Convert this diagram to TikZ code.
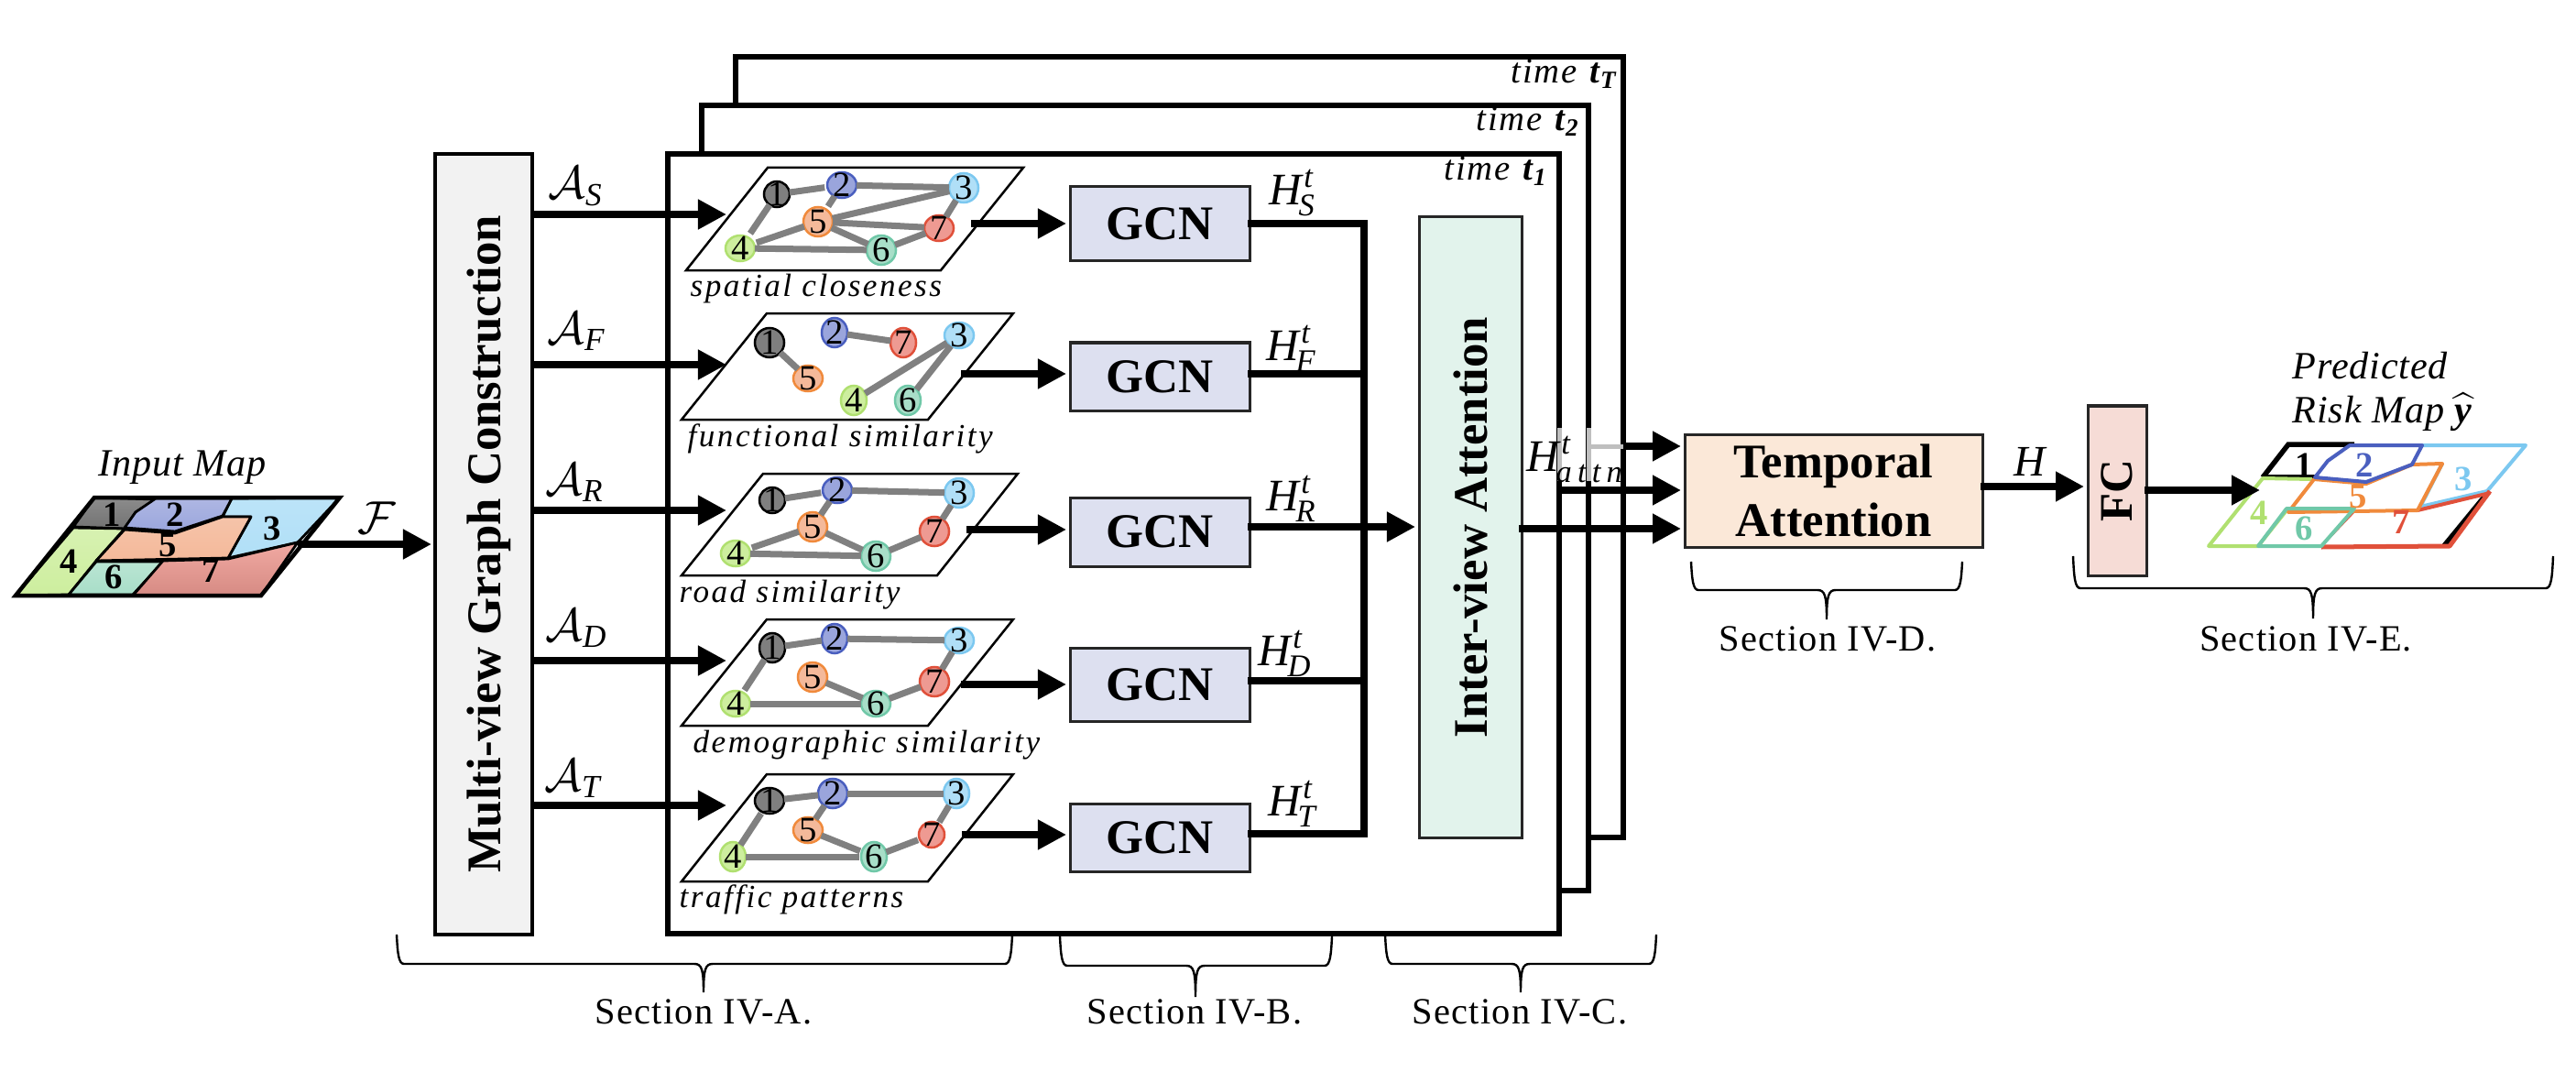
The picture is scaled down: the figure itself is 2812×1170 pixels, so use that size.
\documentclass[tikz,border=0pt]{standalone}
\usepackage{amsmath}
\usepackage{fontspec}
\setmainfont{Liberation Serif}
\usetikzlibrary{arrows.meta,shapes.geometric,calc}
\definecolor{cGcn}{HTML}{DDE0F0}
\definecolor{cMv}{HTML}{F2F2F2}
\definecolor{cIv}{HTML}{E2F3EC}
\definecolor{cTa}{HTML}{FBE8D8}
\definecolor{cFc}{HTML}{F6DCD6}
\definecolor{cEdge}{HTML}{808080}
\definecolor{cGap}{HTML}{BFBFBF}
\definecolor{dOne}{HTML}{000000}
\definecolor{fOne}{HTML}{7F7F7F}
\definecolor{dTwo}{HTML}{4A5FBF}
\definecolor{fTwo}{HTML}{9AA5DC}
\definecolor{dThree}{HTML}{7CC8F0}
\definecolor{fThree}{HTML}{B0DFF7}
\definecolor{dFour}{HTML}{B0E070}
\definecolor{fFour}{HTML}{CDEE9E}
\definecolor{dFive}{HTML}{F08A3C}
\definecolor{fFive}{HTML}{F4B99A}
\definecolor{dSix}{HTML}{70C8A8}
\definecolor{fSix}{HTML}{A8DEC8}
\definecolor{dSeven}{HTML}{E0503A}
\definecolor{fSeven}{HTML}{EE9A92}
\newcommand\bxn[7]{%
  \pgfmathsetmacro\bxw{(#5-#3)*0.01}%
  \pgfmathsetmacro\bxh{(#6-#4)*0.01}%
  \node[#2,minimum width=\bxw cm,minimum height=\bxh cm] (#1) at ({(#3+#5)/2},{(#4+#6)/2}) {#7};}
\newcommand\gnd[7]{%
  \pgfmathsetmacro\gnw{#4*0.02}%
  \pgfmathsetmacro\gnh{#5*0.02}%
  \node[gnode,minimum width=\gnw cm,minimum height=\gnh cm,draw=d#6,fill=f#6] (#1) at (#2,#3) {\raisebox{-0.33em}[0pt][0pt]{\makebox[0pt]{#7}}};}
\newcommand\sbrace[6]{%
  \draw[bracestyle] (#1,#4) .. controls ({#1+1},{#5-12}) and ({#1+2},#5) .. ({#1+8},#5)
    -- ({#3-10},#5) .. controls ({#3-2},#5) and (#3,{#5+6}) .. (#3,#6)
    .. controls (#3,{#5+6}) and ({#3+2},#5) .. ({#3+10},#5)
    -- ({#2-8},#5) .. controls ({#2-2},#5) and ({#2-1},{#5-12}) .. (#2,#4);}
\newcommand\HL[1]{\textit{H}$^{\textit{t}}_{\!\textit{#1}}$}
\newcommand\AL[1]{$\mathcal{A}$$_{\textit{#1}}$}
\newcommand\TM[1]{{\addfontfeature{LetterSpace=5}\textit{time} }\textbf{\textit{t}}$_{\textbf{\textit{#1}}}$}
\tikzset{
  frame/.style={draw=black,fill=white,line width=0.055cm,inner sep=0pt,outer sep=0pt},
  block/.style={draw=black!85,line width=0.03cm,inner sep=0pt,outer sep=0pt,font=\fontsize{15}{18.2}\selectfont\bfseries,align=center},
  wire/.style={line width=0.075cm,draw=black},
  flow/.style={wire,-{Triangle[length=0.31cm,width=0.31cm]}},
  flowbox/.style={flow,shorten >=0.04cm},
  plane/.style={draw=black,fill=white,line width=0.025cm,line join=miter},
  gnode/.style={ellipse,inner sep=0pt,outer sep=0pt,line width=0.025cm,font=\fontsize{11}{12}\selectfont},
  edge/.style={draw=cEdge,line width=0.07cm},
  gaplt/.style={draw=cGap,line width=0.05cm},
  ilabel/.style={anchor=base west,inner sep=0pt,font=\fontsize{10}{12}\selectfont\itshape\addfontfeature{LetterSpace=7}},
  mlabel/.style={anchor=base west,inner sep=0pt,font=\fontsize{12}{14}\selectfont\itshape\addfontfeature{LetterSpace=2}},
  alabel/.style={anchor=base west,inner sep=0pt,font=\fontsize{14.4}{16}\selectfont},
  hlabel/.style={anchor=base west,inner sep=0pt,font=\fontsize{14}{16}\selectfont},
  tlabel/.style={anchor=base east,inner sep=0pt,font=\fontsize{11}{13}\selectfont},
  seclabel/.style={anchor=base,inner sep=0pt,font=\fontsize{11.5}{14}\selectfont\addfontfeature{LetterSpace=3}},
  digit/.style={inner sep=0pt,font=\fontsize{11}{12}\selectfont\bfseries},
  bracestyle/.style={draw=black,line width=0.024cm},
  region/.style={draw=black,line width=0.028cm,line join=round},
  risk/.style={line width=0.04cm,line join=round},
}
\begin{document}
\begin{tikzpicture}[x=0.01cm,y=-0.01cm]
\useasboundingbox (0,0) rectangle (2812,1170);
% stacked time frames
\bxn{fT}{frame}{803}{62}{1772}{914}{}
\bxn{fTwo}{frame}{766}{115}{1734}{972}{}
\bxn{fOne}{frame}{729}{168}{1702}{1019}{}
\node[tlabel] (timeT) at (1767,91) {\TM{T}};
\node[tlabel] (timeTwo) at (1725,143) {\TM{2}};
\node[tlabel] (timeOne) at (1690,197) {\TM{1}};
% input map
\path[region,top color=fThree!85!white,bottom color=fThree] (253,544) -- (371,543) -- (325,592) -- (249,609) -- (274,564) -- (243,564) -- cycle;
\path[region,top color=fOne!90!white,bottom color=fOne!90!black] (103,543) -- (170,545) -- (148,559) -- (136,577) -- (80,575) -- cycle;
\path[region,top color=fTwo!80!white,bottom color=fTwo] (170,544) -- (253,544) -- (243,563) -- (191,580) -- (136,576) -- (148,559) -- cycle;
\path[region,top color=fFour!80!white,bottom color=fFour] (80,576) -- (136,577) -- (105,612) -- (75,649) -- (17,650) -- cycle;
\path[region,top color=fFive!85!white,bottom color=fFive] (136,578) -- (191,582) -- (243,564) -- (274,564) -- (249,609) -- (105,612) -- cycle;
\path[region,top color=fSix!80!white,bottom color=fSix] (105,613) -- (178,613) -- (145,649) -- (75,649) -- cycle;
\path[region,top color=fSeven!85!white,bottom color=fSeven!90!black] (178,612) -- (249,610) -- (325,592) -- (285,650) -- (145,650) -- cycle;
\draw[black,line width=0.045cm,line join=miter] (103,543) -- (371,543) -- (285,650) -- (17,650) -- cycle;
\node[digit] (mA) at (122,562) {1};
\node[digit] (mB) at (191,562) {2};
\node[digit] (mC) at (297,577) {3};
\node[digit] (mD) at (75,613) {4};
\node[digit] (mE) at (183,595) {5};
\node[digit] (mF) at (124,630) {6};
\node[digit] (mG) at (230,623) {7};
\node[mlabel] (inlab) at (107,519) {Input Map};
% multi-view block
\bxn{mv}{block,draw=black,line width=0.045cm,fill=cMv}{475}{168}{581}{1020}{\hspace{0.12cm}\rotatebox{90}{Multi-view Graph Construction}}
\coordinate (mapout) at (325,594);
\draw[flowbox] (mapout) -- (mv.west |- mapout);
\node[alabel] (lF) at (390,582) {$\mathcal{F}$};
% planes
\draw[plane] (838,183) -- (1117,183) -- (1027,295) -- (749,295) -- cycle;
\draw[plane] (837,342) -- (1106,342) -- (1013,458) -- (744,458) -- cycle;
\draw[plane] (833,517) -- (1111,517) -- (1023,628) -- (744,628) -- cycle;
\draw[plane] (837,676) -- (1106,676) -- (1013,792) -- (744,792) -- cycle;
\draw[plane] (837,845) -- (1106,845) -- (1013,962) -- (744,962) -- cycle;
% spatial
\gnd{sa}{848}{212}{14}{14}{One}{1}
\gnd{sb}{919}{202}{16}{14}{Two}{2}
\gnd{sc}{1052}{205}{16}{16}{Three}{3}
\gnd{sd}{808}{271}{16}{14}{Four}{4}
\gnd{se}{893}{242}{16}{16}{Five}{5}
\gnd{sf}{962}{273}{16}{16}{Six}{6}
\gnd{sg}{1025}{249}{16}{14}{Seven}{7}
\draw[edge,shorten >=0.03cm] (sa) -- (sb);
\draw[edge,shorten >=0.05cm] (sa) -- (sd);
\draw[edge] (sb) -- (sc);
\draw[edge,shorten >=0.04cm] (sb) -- (se);
\draw[edge] (sc) -- (se);
\draw[edge] (sc) -- (sg);
\draw[edge,shorten <=0.03cm] (sd) -- (se);
\draw[edge] (sd) -- (sf);
\draw[edge] (se) -- (sg);
\draw[edge] (se) -- (sf);
\draw[edge] (sf) -- (sg);
% functional
\gnd{fa}{840}{374}{16}{16}{One}{1}
\gnd{fb}{911}{363}{14}{16}{Two}{2}
\gnd{fc}{1047}{366}{16}{14}{Three}{3}
\gnd{fd}{932}{437}{14}{16}{Four}{4}
\gnd{fe}{882}{413}{16}{14}{Five}{5}
\gnd{ff}{991}{437}{14}{16}{Six}{6}
\gnd{fg}{986}{374}{14}{16}{Seven}{7}
\draw[edge] (fa) -- (fe);
\draw[edge] (fb) -- (fg);
\draw[edge] (fc) -- (fd);
\draw[edge] (fc) -- (ff);
% road
\gnd{ra}{843}{546}{14}{14}{One}{1}
\gnd{rb}{914}{535}{16}{14}{Two}{2}
\gnd{rc}{1047}{538}{16}{16}{Three}{3}
\gnd{rd}{803}{604}{16}{14}{Four}{4}
\gnd{re}{887}{575}{16}{16}{Five}{5}
\gnd{rf}{956}{607}{16}{16}{Six}{6}
\gnd{rg}{1020}{580}{16}{16}{Seven}{7}
\draw[edge,shorten >=0.02cm] (ra) -- (rb);
\draw[edge] (rb) -- (rc);
\draw[edge] (rb) -- (re);
\draw[edge] (rc) -- (rg);
\draw[edge,shorten <=0.03cm] (rd) -- (re);
\draw[edge] (rd) -- (rf);
\draw[edge] (re) -- (rf);
\draw[edge] (rf) -- (rg);
% demographic
\gnd{da}{843}{707}{14}{16}{One}{1}
\gnd{db}{911}{697}{14}{16}{Two}{2}
\gnd{dc}{1047}{699}{16}{14}{Three}{3}
\gnd{dd}{803}{768}{16}{14}{Four}{4}
\gnd{de}{887}{739}{16}{16}{Five}{5}
\gnd{df}{956}{768}{16}{14}{Six}{6}
\gnd{dg}{1020}{744}{16}{16}{Seven}{7}
\draw[edge] (da) -- (db);
\draw[edge,shorten >=0.03cm] (da) -- (dd);
\draw[edge] (db) -- (dc);
\draw[edge] (dc) -- (dg);
\draw[edge] (dd) -- (df);
\draw[edge] (de) -- (df);
\draw[edge] (df) -- (dg);
% traffic
\gnd{ta}{840}{874}{16}{14}{One}{1}
\gnd{tb}{909}{866}{16}{16}{Two}{2}
\gnd{tc}{1044}{866}{14}{16}{Three}{3}
\gnd{td}{800}{935}{14}{16}{Four}{4}
\gnd{te}{882}{906}{16}{14}{Five}{5}
\gnd{tf}{954}{935}{14}{16}{Six}{6}
\gnd{tg}{1017}{911}{14}{14}{Seven}{7}
\draw[edge] (ta) -- (tb);
\draw[edge,shorten <=0.02cm] (ta) -- (td);
\draw[edge] (tb) -- (tc);
\draw[edge] (tb) -- (te);
\draw[edge,shorten >=0.02cm] (tc) -- (tg);
\draw[edge,shorten >=0.02cm] (td) -- (tf);
\draw[edge,shorten >=0.02cm] (te) -- (tf);
\draw[edge,shorten >=0.02cm] (tf) -- (tg);
% graph captions
\node[ilabel] (capS) at (753,323) {spatial closeness};
\node[ilabel] (capF) at (750,487) {functional similarity};
\node[ilabel] (capR) at (741,657) {road similarity};
\node[ilabel] (capD) at (756,821) {demographic similarity};
\node[ilabel] (capT) at (741,990) {traffic patterns};
% GCN blocks
\bxn{gS}{block,fill=cGcn}{1168}{204}{1364}{284}{GCN}
\bxn{gF}{block,fill=cGcn}{1168}{374}{1364}{448}{GCN}
\bxn{gR}{block,fill=cGcn}{1168}{543}{1364}{618}{GCN}
\bxn{gD}{block,fill=cGcn}{1168}{707}{1364}{787}{GCN}
\bxn{gT}{block,fill=cGcn}{1168}{877}{1364}{951}{GCN}
% inter-view attention
\bxn{iv}{block,fill=cIv}{1549}{237}{1661}{914}{\rotatebox{90}{Inter-view Attention}}
% input arrows into planes
\coordinate (pS) at (793,234);
\coordinate (pF) at (793,398);
\coordinate (pR) at (793,557);
\coordinate (pD) at (793,721);
\coordinate (pT) at (793,879);
\draw[flow] (mv.east |- pS) -- (pS);
\draw[flow] (mv.east |- pF) -- (pF);
\draw[flow] (mv.east |- pR) -- (pR);
\draw[flow] (mv.east |- pD) -- (pD);
\draw[flow] (mv.east |- pT) -- (pT);
\node[alabel] (aS) at (598,217) {\AL{S}};
\node[alabel] (aF) at (597,375) {\AL{F}};
\node[alabel] (aR) at (595,540) {\AL{R}};
\node[alabel] (aD) at (595,699) {\AL{D}};
\node[alabel] (aT) at (594,863) {\AL{T}};
% plane to GCN
\coordinate (qS) at (1060,244);
\coordinate (qF) at (1049,408);
\coordinate (qR) at (1055,578);
\coordinate (qD) at (1049,747);
\coordinate (qT) at (1050,911);
\draw[flowbox] (qS) -- (gS.west |- qS);
\draw[flowbox] (qF) -- (gF.west |- qF);
\draw[flowbox] (qR) -- (gR.west |- qR);
\draw[flowbox] (qD) -- (gD.west |- qD);
\draw[flowbox] (qT) -- (gT.west |- qT);
% GCN to attention bus
\coordinate (oS) at (1362,244);
\coordinate (oF) at (1362,408);
\coordinate (oR) at (1362,575);
\coordinate (oD) at (1362,743);
\coordinate (oT) at (1362,910);
\coordinate (busS) at (1489,244);
\coordinate (busT) at (1489,910);
\draw[wire,line join=miter] (oS) -- (busS) -- (busT) -- (oT);
\draw[wire] (oF) -- (busS |- oF);
\draw[wire] (oD) -- (busS |- oD);
\draw[flowbox] (oR) -- (iv.west |- oR);
\node[hlabel] (hS) at (1385,223) {\HL{S}};
\node[hlabel] (hF) at (1382,393) {\HL{F}};
\node[hlabel] (hR) at (1382,557) {\HL{R}};
\node[hlabel] (hD) at (1373,726) {\HL{D}};
\node[hlabel] (hT) at (1384,890) {\HL{T}};
% temporal attention
\bxn{ta2}{block,fill=cTa}{1839}{474}{2164}{597}{Temporal\\Attention}
% breaks in the frames behind the attention label
\coordinate (gapTop) at (1702,467);
\coordinate (gapBot) at (1702,525);
\draw[gaplt] (fOne.east |- gapTop) -- (fOne.east |- gapBot);
\draw[gaplt] (fTwo.east |- gapTop) -- (fTwo.east |- gapBot);
\coordinate (yA) at (1772,487);
\coordinate (yB) at (1702,535);
\coordinate (yC) at (1658,577);
\draw[gaplt] (fTwo.east |- yA) -- (yA);
\draw[flowbox] (yA) -- (ta2.west |- yA);
\draw[flowbox] (yB) -- (ta2.west |- yB);
\draw[flowbox] (yC) -- (ta2.west |- yC);
\node[hlabel] (hA) at (1666,514) {\textit{H}$^{\textit{t}}_{\!\textit{\addfontfeature{LetterSpace=18}attn}}$};
% FC
\bxn{fc}{block,fill=cFc,font=\fontsize{14.5}{16}\selectfont\bfseries}{2279}{443}{2343}{628}{\rotatebox{90}{FC}}
\coordinate (hOut) at (2162,531);
\draw[flowbox] (hOut) -- (fc.west |- hOut);
\node[hlabel,font=\fontsize{13.5}{16}\selectfont] (hH) at (2198,519) {\textit{H}};
% predicted map
\draw[black,line width=0.025cm] (2411,597) -- (2672,597);
\draw[black,line width=0.055cm,line join=miter] (2470,521) -- (2498,485) -- (2570,485);
\draw[black,line width=0.04cm] (2470,520) -- (2528,520);
\draw[black,line width=0.06cm] (2714,540) -- (2668,596);
\draw[risk,draw=dThree] (2644,486) -- (2757,486) -- (2715,536) -- (2642,553) -- (2666,506);
\draw[risk,draw=dFour] (2524,523) -- (2470,522) -- (2411,596) -- (2465,596) -- (2496,557);
\draw[risk,draw=dSeven] (2718,538) -- (2639,557);
\draw[risk,draw=dSeven,line width=0.05cm] (2718,536) -- (2674,596) -- (2534,597);
\draw[risk,draw=dSeven,line width=0.025cm] (2534,596) -- (2570,558);
\draw[risk,draw=dFive] (2526,523) -- (2583,528) -- (2633,507) -- (2666,506) -- (2639,557) -- (2498,559) -- cycle;
\draw[risk,draw=dTwo] (2565,486) -- (2644,486) -- (2633,507) -- (2583,526) -- (2527,521) -- (2541,503) -- cycle;
\draw[risk,draw=dSix] (2496,555) -- (2570,555) -- (2534,596) -- (2465,596) -- cycle;
\node[digit] (pA) at (2515,508) {1};
\node[digit,text=dTwo] (pB) at (2581,508) {2};
\node[digit,text=dThree] (pC) at (2689,523) {3};
\node[digit,text=dFour] (pD2) at (2466,560) {4};
\node[digit,text=dFive] (pE) at (2574,542) {5};
\node[digit,text=dSix] (pG) at (2515,577) {6};
\node[digit,text=dSeven] (pH) at (2621,570) {7};
\coordinate (fcOut) at (2341,535);
\coordinate (fcTip) at (2467,535);
\draw[flow] (fcOut) -- (fcTip);
\node[mlabel] (predA) at (2502,413) {Predicted};
\node[mlabel] (predB) at (2502,461) {Risk Map $\widehat{\textbf{\textit{y}}}$};
% braces and section labels
\sbrace{433}{1105}{768}{1020}{1052}{1083}
\sbrace{1157}{1454}{1305}{1022}{1054}{1088}
\sbrace{1512}{1808}{1660}{1020}{1052}{1083}
\sbrace{1846}{2142}{1994}{613}{644}{676}
\sbrace{2263}{2787}{2525}{607}{642}{675}
\node[seclabel] (secA) at (768,1117) {Section IV-A.};
\node[seclabel] (secB) at (1304,1117) {Section IV-B.};
\node[seclabel] (secC) at (1659,1117) {Section IV-C.};
\node[seclabel] (secD) at (1995,710) {Section IV-D.};
\node[seclabel] (secE) at (2517,710) {Section IV-E.};
\end{tikzpicture}
\end{document}
